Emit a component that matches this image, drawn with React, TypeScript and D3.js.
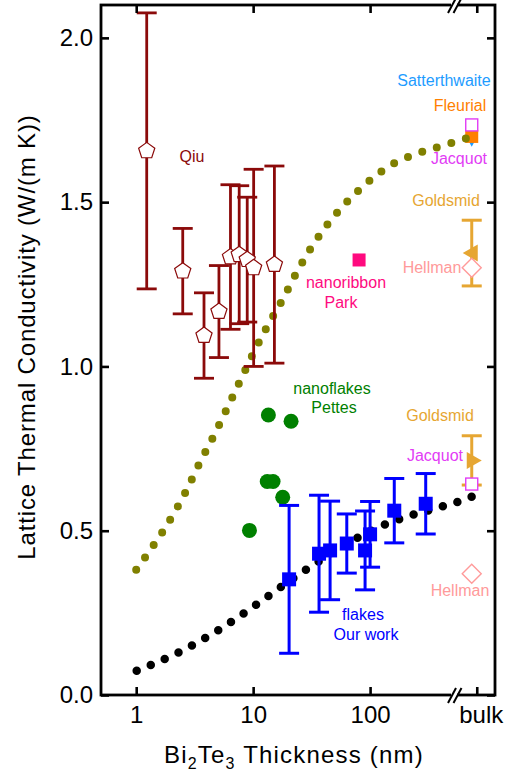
import React, { useEffect, useRef } from "react";
import * as d3 from "d3";

// ---- data ----
// Qiu (thin films), open pentagons with error bars
const qiuThickness = [1.23, 2.5, 3.8, 5.1, 6.4, 7.6, 8.9, 10.1, 15.2];
const qiuKappa = [1.656, 1.29, 1.094, 1.167, 1.333, 1.34, 1.325, 1.3, 1.31];
const qiuErr = [0.42, 0.13, 0.13, 0.14, 0.22, 0.21, 0.19, 0.3, 0.3];

// our work, flakes
const flakeThickness = [20.3, 36.6, 45.5, 63.2, 90.6, 100, 161, 299];
const flakeKappa = [0.352, 0.43, 0.44, 0.461, 0.44, 0.489, 0.561, 0.582];
const flakeErr = [0.225, 0.178, 0.15, 0.09, 0.12, 0.1, 0.098, 0.092];

// Pettes nanoflakes
const pettesThickness = [9.3, 13.2, 13.5, 14.8, 17.9, 21.1];
const pettesKappa = [0.501, 0.65, 0.852, 0.65, 0.602, 0.833];

// Park nanoribbon
const parkThickness = [80.5];
const parkKappa = [1.324];

// "bulk" sits past the axis break, put it on the log axis at a virtual thickness
const BULK = 740;
const BULK_TICK = 817;

// model curves (dotted)
const upperCurveT = [1, 2.69, 3.52, 4.67, 6.08, 7.89, 10.26, 13.5, 17.9, 24.4, 39.4, 57.3, 89.5, 148, 259, 467, BULK_TICK];
const upperCurveK = [0.381, 0.623, 0.709, 0.793, 0.877, 0.962, 1.047, 1.128, 1.204, 1.296, 1.413, 1.484, 1.552, 1.611, 1.649, 1.677, 1.704];
const lowerCurveT = [1.01, 2.32, 5.12, 11.1, 17.8, 29.7, 49.2, 82.1, 132, 210, 347, 608, BULK_TICK];
const lowerCurveK = [0.074, 0.13, 0.199, 0.28, 0.332, 0.386, 0.437, 0.483, 0.518, 0.544, 0.566, 0.592, 0.61];

// bulk literature values
const bulkNames = ["Satterthwaite", "Fleurial", "Jacquot", "Goldsmid", "Hellman", "Goldsmid", "Jacquot", "Hellman"];
const bulkKappa = [1.687, 1.7, 1.735, 1.345, 1.3, 0.714, 0.642, 0.369];
const bulkErr = [0, 0, 0, 0.1, 0, 0.075, 0, 0];

const xTicks = [1, 10, 100, BULK_TICK];
const xTickLabels = ["1", "10", "100", "bulk"];
const yTicks = [0, 0.5, 1.0, 1.5, 2.0];

// ---- styles ----
const W = 506;
const H = 780;
const FONT = "'Liberation Sans', Arial, sans-serif";
const C = {
  qiu: "#8b0a0a",
  olive: "#808000",
  green: "#008000",
  blue: "#0000ff",
  park: "#ff0a7f",
  satt: "#1e9cff",
  fleurial: "#ff8000",
  jacquot: "#e23cf5",
  goldsmid: "#e6a632",
  hellman: "#ff9a9a",
};
// marker per bulk entry (same order as bulkNames)
const bulkShape = ["triDown", "square", "openSquare", "triLeft", "openDiamond", "triRight", "openSquare", "openDiamond"];
const bulkColor = [C.satt, C.fleurial, C.jacquot, C.goldsmid, C.hellman, C.goldsmid, C.jacquot, C.hellman];

const notes = [
  { text: "Qiu", x: 192, y: 162, color: C.qiu },
  { text: "nanoribbon", x: 346, y: 288, color: C.park },
  { text: "Park", x: 341, y: 308, color: C.park },
  { text: "nanoflakes", x: 332, y: 394, color: C.green },
  { text: "Pettes", x: 334, y: 413, color: C.green },
  { text: "Satterthwaite", x: 444, y: 86, color: C.satt },
  { text: "Fleurial", x: 460, y: 111, color: C.fleurial },
  { text: "Jacquot", x: 459, y: 164, color: C.jacquot },
  { text: "Goldsmid", x: 446, y: 206, color: C.goldsmid },
  { text: "Hellman", x: 432, y: 273, color: C.hellman },
  { text: "Goldsmid", x: 440, y: 421, color: C.goldsmid },
  { text: "Jacquot", x: 435, y: 461, color: C.jacquot },
  { text: "Hellman", x: 460, y: 596, color: C.hellman },
  { text: "flakes", x: 363, y: 620, color: C.blue },
  { text: "Our work", x: 366, y: 640, color: C.blue },
];

const pentagon = (r: number) =>
  d3.range(5).map((i) => {
    const a = -Math.PI / 2 + (i * 2 * Math.PI) / 5;
    return [r * Math.cos(a), r * Math.sin(a)].join(",");
  }).join("L");

export default function App() {
  const ref = useRef<SVGSVGElement>(null);

  useEffect(() => {
    const svg = d3.select(ref.current);
    svg.selectAll("*").remove();

    const left = 101, right = 495, top = 5, bottom = 695;

    const x = d3.scaleLog().domain([0.5, 1170]).range([left, right]);
    const y = d3.scaleLinear().domain([0, 2.1]).range([bottom, top]);

    const root = svg.append("g").style("font-family", FONT);

    // error bar helper
    const errBar = (g: any, cx: number, v: number, e: number, color: string, w: number) => {
      g.append("line").attr("x1", cx).attr("x2", cx).attr("y1", y(v - e)).attr("y2", y(v + e))
        .attr("stroke", color).attr("stroke-width", w);
      [v - e, v + e].forEach((yy) =>
        g.append("line").attr("x1", cx - 10).attr("x2", cx + 10).attr("y1", y(yy)).attr("y2", y(yy))
          .attr("stroke", color).attr("stroke-width", w)
      );
    };

    // bulk markers first, the olive dots go over them
    const bulkG = root.append("g");
    bulkKappa.forEach((k, i) => {
      const cx = x(BULK);
      const cy = y(k);
      const col = bulkColor[i];
      if (bulkErr[i] > 0) errBar(bulkG, cx, k, bulkErr[i], col, 3);
      const shape = bulkShape[i];
      const g = bulkG.append("g").attr("transform", `translate(${cx},${cy})`);
      if (shape === "triDown") g.append("path").attr("d", "M-6,-5L6,-5L0,6Z").attr("fill", col);
      if (shape === "square") g.append("rect").attr("x", -6.5).attr("y", -6.5).attr("width", 13).attr("height", 13).attr("fill", col);
      if (shape === "openSquare")
        g.append("rect").attr("x", -6).attr("y", -6).attr("width", 12).attr("height", 12)
          .attr("fill", "#fff").attr("stroke", col).attr("stroke-width", 1.4);
      if (shape === "triLeft") g.append("path").attr("d", "M-9,0L6,-8.5L6,8.5Z").attr("fill", col);
      if (shape === "triRight") g.append("path").attr("d", "M10,0L-5,-8.5L-5,8.5Z").attr("fill", col);
      if (shape === "openDiamond")
        g.append("path").attr("d", "M0,-9.5L9.5,0L0,9.5L-9.5,0Z")
          .attr("fill", "#fff").attr("stroke", col).attr("stroke-width", 1.4);
    });

    // dotted model curves
    const line = d3.line<[number, number]>()
      .x((d) => x(d[0]))
      .y((d) => y(d[1]))
      .curve(d3.curveMonotoneX);
    const curves = [
      { t: lowerCurveT, k: lowerCurveK, color: "#000", w: 8.5 },
      { t: upperCurveT, k: upperCurveK, color: C.olive, w: 8 },
    ];
    curves.forEach((c) => {
      root.append("path")
        .attr("d", line(c.t.map((t, i) => [t, c.k[i]] as [number, number])))
        .attr("fill", "none")
        .attr("stroke", c.color)
        .attr("stroke-width", c.w)
        .attr("stroke-linecap", "round")
        .attr("stroke-dasharray", "0 15.2");
    });

    // Pettes
    root.append("g").selectAll("circle")
      .data(pettesThickness)
      .enter()
      .append("circle")
      .attr("cx", (d) => x(d))
      .attr("cy", (d, i) => y(pettesKappa[i]))
      .attr("r", 7.5)
      .attr("fill", C.green);

    // Park
    root.append("g").selectAll("rect")
      .data(parkThickness)
      .enter()
      .append("rect")
      .attr("x", (d) => x(d) - 6.5)
      .attr("y", (d, i) => y(parkKappa[i]) - 6.5)
      .attr("width", 13)
      .attr("height", 13)
      .attr("fill", C.park);

    // Qiu
    const qiuG = root.append("g");
    qiuThickness.forEach((t, i) => errBar(qiuG, x(t), qiuKappa[i], qiuErr[i], C.qiu, 2.8));
    qiuThickness.forEach((t, i) => {
      qiuG.append("path")
        .attr("d", "M" + pentagon(8.5) + "Z")
        .attr("transform", `translate(${x(t)},${y(qiuKappa[i])})`)
        .attr("fill", "#fff")
        .attr("stroke", C.qiu)
        .attr("stroke-width", 1.2);
    });

    // our flakes
    const flG = root.append("g");
    flakeThickness.forEach((t, i) => errBar(flG, x(t), flakeKappa[i], flakeErr[i], C.blue, 3));
    flakeThickness.forEach((t, i) => {
      flG.append("rect")
        .attr("x", x(t) - 7).attr("y", y(flakeKappa[i]) - 7)
        .attr("width", 14).attr("height", 14)
        .attr("fill", C.blue);
    });

    // frame
    root.append("rect")
      .attr("x", left).attr("y", top)
      .attr("width", right - left).attr("height", bottom - top)
      .attr("fill", "none").attr("stroke", "#000").attr("stroke-width", 2.8);

    // axes, ticks pointing inward
    const bottomAxis = root.append("g")
      .attr("transform", `translate(0,${bottom})`)
      .call(d3.axisBottom(x).tickValues(xTicks).tickFormat((d, i) => xTickLabels[i]).tickSize(-8).tickPadding(11));
    const topAxis = root.append("g")
      .attr("transform", `translate(0,${top})`)
      .call(d3.axisTop(x).tickValues(xTicks).tickFormat(() => "").tickSize(-8));
    const leftAxis = root.append("g")
      .attr("transform", `translate(${left},0)`)
      .call(d3.axisLeft(y).tickValues(yTicks).tickFormat(d3.format(".1f")).tickSize(-8).tickPadding(8));
    const rightAxis = root.append("g")
      .attr("transform", `translate(${right},0)`)
      .call(d3.axisRight(y).tickValues(yTicks).tickFormat(() => "").tickSize(-8));

    [bottomAxis, topAxis, leftAxis, rightAxis].forEach((a) => {
      a.select(".domain").remove();
      a.selectAll(".tick line").attr("stroke", "#000").attr("stroke-width", 2.6);
      a.selectAll("text").attr("font-size", 24).attr("font-family", FONT).attr("fill", "#000");
    });
    bottomAxis.selectAll("text").filter((d) => d === BULK_TICK).attr("dx", 4);

    // axis break marks "//"
    [top, bottom].forEach((yy) => {
      root.append("path")
        .attr("d", `M451,${yy + 8}L459,${yy - 7}L456,${yy - 7}L448,${yy + 8}Z`)
        .attr("fill", "#fff");
      root.append("rect").attr("x", 451).attr("y", yy - 2).attr("width", 6).attr("height", 4).attr("fill", "#fff");
      [0, 5.5].forEach((dx) =>
        root.append("line")
          .attr("x1", 448 + dx).attr("y1", yy + 8)
          .attr("x2", 456 + dx).attr("y2", yy - 7)
          .attr("stroke", "#000").attr("stroke-width", 2)
      );
    });

    // axis titles
    const xt = root.append("text")
      .attr("x", 294).attr("y", 763)
      .attr("text-anchor", "middle")
      .attr("font-size", 24)
      .attr("letter-spacing", 1.2);
    xt.append("tspan").text("Bi");
    xt.append("tspan").text("2").attr("font-size", 16).attr("dy", 6);
    xt.append("tspan").text("Te").attr("dy", -6);
    xt.append("tspan").text("3").attr("font-size", 16).attr("dy", 6);
    xt.append("tspan").text(" Thickness (nm)").attr("dy", -6);

    root.append("text")
      .attr("transform", "translate(35,337) rotate(-90)")
      .attr("text-anchor", "middle")
      .attr("font-size", 24)
      .attr("letter-spacing", 0.85)
      .text("Lattice Thermal Conductivity (W/(m K))");

    // annotations
    root.append("g").selectAll("text")
      .data(notes)
      .enter()
      .append("text")
      .attr("x", (d) => d.x)
      .attr("y", (d) => d.y)
      .attr("text-anchor", "middle")
      .attr("font-size", 16)
      .attr("fill", (d) => d.color)
      .text((d) => d.text);
  }, []);

  return (
    <svg
      ref={ref}
      width={W}
      height={H}
      style={{ position: "absolute", left: 0, top: 0, background: "#fff" }}
    />
  );
}
